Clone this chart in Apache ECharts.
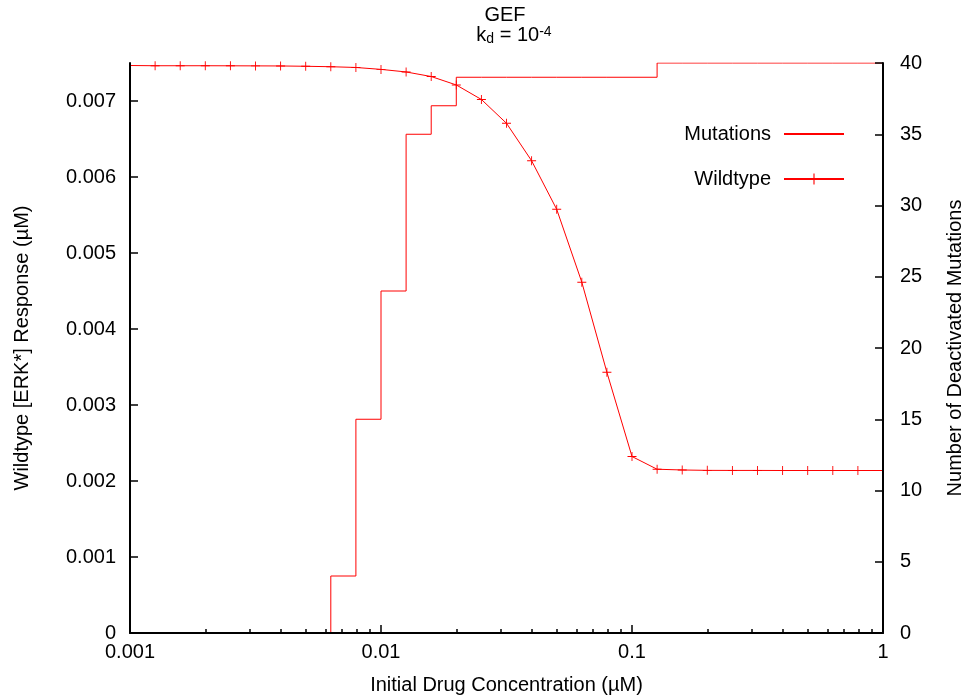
<!DOCTYPE html>
<html>
<head>
<meta charset="utf-8">
<script src="https://cdn.jsdelivr.net/npm/echarts@6/dist/echarts.min.js"></script>
<style>
html,body{margin:0;padding:0;background:#fff;}
#chart{width:965px;height:697px;}
</style>
</head>
<body>
<div id="chart"></div>
<script>
// Initial drug concentration (µM)
const concentrations = [0.001, 0.001259, 0.001585, 0.001995, 0.002512, 0.003162, 0.003981, 0.005012,
  0.00631, 0.007943, 0.01, 0.01259, 0.01585, 0.01995, 0.02512, 0.03162, 0.03981, 0.05012,
  0.0631, 0.07943, 0.1, 0.1259, 0.1585, 0.1995, 0.2512, 0.3162, 0.3981, 0.5012, 0.631, 0.7943, 1];
// Wildtype [ERK*] response (µM)
const wildtype = [0.007467, 0.007464, 0.007464, 0.007464, 0.007463, 0.007462, 0.007461, 0.007457,
  0.007451, 0.007441, 0.007416, 0.007382, 0.007322, 0.007211, 0.007020, 0.006707, 0.006214, 0.005575,
  0.004616, 0.003430, 0.002322, 0.002155, 0.002145, 0.00214, 0.002139, 0.002139, 0.002138, 0.002138,
  0.002138, 0.002138, 0.002138];
// Number of deactivated mutations
const mutations = [0, 0, 0, 0, 0, 0, 0, 0, 4, 15, 24, 35, 37, 39, 39, 39, 39, 39, 39, 39, 39,
  40, 40, 40, 40, 40, 40, 40, 40, 40, 40];
const leftTicks = [0, 0.001, 0.002, 0.003, 0.004, 0.005, 0.006, 0.007];

const FONT = "'Liberation Sans', Arial, Helvetica, sans-serif";
const RED = '#ff0000';
const PLUS = 'path://M0,4.5h10v1h-10z M4.5,0h1v10h-1z';

const chart = echarts.init(document.getElementById('chart'), null, {renderer: 'canvas'});

const wildData = concentrations.map((c, i) => {
  const d = {value: [c, wildtype[i]]};
  if (i === 0 || i === concentrations.length - 1) d.symbol = 'none';
  return d;
});
const mutData = concentrations.map((c, i) => [c, mutations[i]]);

const option = {
  backgroundColor: '#fff',
  animation: false,
  textStyle: {fontFamily: FONT},
  title: [{
    left: 500, top: 0, textAlign: 'center',
    text: 'GEF',
    textStyle: {fontSize: 20, color: '#000', fontFamily: FONT, fontWeight: 'normal'}
  }, {
    left: 509, top: 20, textAlign: 'center',
    text: '{t|k}{sub|d}{t| = 10}{sup|-4}',
    textStyle: {
      fontWeight: 'normal',
      rich: {
        t: {fontSize: 20, color: '#000', fontFamily: FONT, fontWeight: 'normal', lineHeight: 21},
        sub: {fontSize: 14, color: '#000', fontFamily: FONT, fontWeight: 'normal', lineHeight: 12, verticalAlign: 'bottom'},
        sup: {fontSize: 14, color: '#000', fontFamily: FONT, fontWeight: 'normal', lineHeight: 12, verticalAlign: 'top'}
      }
    }
  }],
  legend: {
    data: [{name: 'Mutations', itemStyle: {opacity: 0}}, 'Wildtype'],
    orient: 'vertical', align: 'right',
    right: 115, top: 119,
    itemWidth: 60, itemHeight: 14, itemGap: 25,
    formatter: '{n|{name}}',
    textStyle: {fontSize: 20, color: '#000', fontFamily: FONT,
      rich: {n: {fontSize: 20, color: '#000', fontFamily: FONT, padding: [0, 8, 0, 0]}}}
  },
  grid: {left: 130, right: 82, top: 63, bottom: 64, outerBoundsMode: 'none', containLabel: false},
  xAxis: {
    type: 'log', logBase: 10, min: 0.001, max: 1, z: 5,
    name: 'Initial Drug Concentration (µM)', nameLocation: 'middle', nameGap: 42,
    nameTextStyle: {fontSize: 20, color: '#000', fontFamily: FONT},
    axisLine: {show: true, lineStyle: {color: '#000', width: 2}},
    axisTick: {inside: true, length: 8, lineStyle: {color: '#000', width: 1.5}},
    minorTick: {show: true, splitNumber: 9, length: 4, lineStyle: {color: '#000', width: 1.5}},
    axisLabel: {fontSize: 20, color: '#000', margin: 9, formatter: v => String(+v.toPrecision(3))},
    splitLine: {show: false}, minorSplitLine: {show: false}
  },
  yAxis: [{
    type: 'value', min: 0, max: 0.0075, position: 'left', z: 5,
    name: 'Wildtype [ERK*] Response (µM)', nameLocation: 'middle', nameGap: 98,
    nameTextStyle: {fontSize: 20, color: '#000', fontFamily: FONT},
    axisLine: {show: true, lineStyle: {color: '#000', width: 2}},
    axisTick: {show: true, inside: true, length: 8, customValues: leftTicks, lineStyle: {color: '#000', width: 1.5}},
    axisLabel: {fontSize: 20, color: '#000', margin: 14, customValues: leftTicks,
      formatter: v => v === 0 ? '0' : v.toFixed(3)},
    splitLine: {show: false}
  }, {
    type: 'value', min: 0, max: 40, interval: 5, position: 'right', z: 5,
    name: 'Number of Deactivated Mutations', nameLocation: 'middle', nameGap: 62,
    nameTextStyle: {fontSize: 20, color: '#000', fontFamily: FONT},
    axisLine: {show: true, lineStyle: {color: '#000', width: 2}},
    axisTick: {show: true, inside: true, length: 8, lineStyle: {color: '#000', width: 1.5}},
    axisLabel: {fontSize: 20, color: '#000', margin: 17},
    splitLine: {show: false}
  }],
  series: [{
    name: 'Mutations', type: 'line', yAxisIndex: 1, step: 'end',
    symbol: 'none', data: mutData, z: 2,
    itemStyle: {color: RED},
    lineStyle: {color: RED, width: 1}
  }, {
    name: 'Wildtype', type: 'line', yAxisIndex: 0,
    symbol: PLUS, symbolSize: 9, showAllSymbol: true, data: wildData, z: 3,
    itemStyle: {color: RED},
    lineStyle: {color: RED, width: 1}
  }]
};
chart.setOption(option);
</script>
</body>
</html>
